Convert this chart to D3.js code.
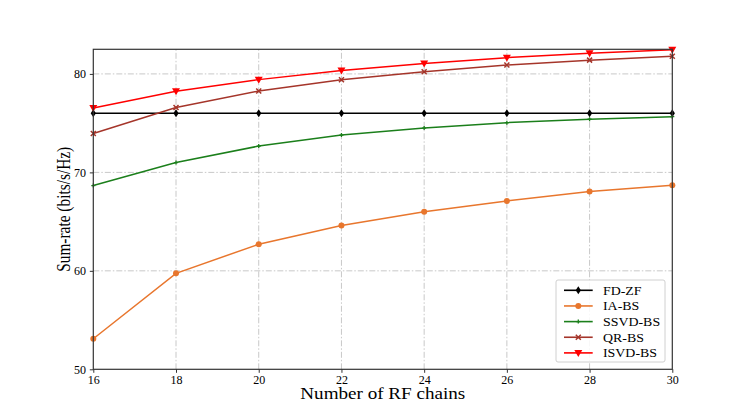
<!DOCTYPE html>
<html><head><meta charset="utf-8">
<script src="https://cdn.jsdelivr.net/npm/d3@7"></script>
<style>body{margin:0;background:#fff}svg{display:block}</style>
</head><body>
<script>
const xs = [16,18,20,22,24,26,28,30];
const fdzf = [76.0,76.0,76.0,76.0,76.0,76.0,76.0,76.0];
const iabs = [53.1,59.75,62.7,64.6,66.0,67.1,68.05,68.7];
const ssvd = [68.66,71.0,72.67,73.79,74.5,75.05,75.4,75.66];
const qrbs = [73.94,76.58,78.27,79.4,80.22,80.9,81.4,81.8];
const isvd = [76.53,78.25,79.42,80.35,81.05,81.65,82.1,82.45];
const seriesNames = ["FD-ZF","IA-BS","SSVD-BS","QR-BS","ISVD-BS"];
const xTicks = [16,18,20,22,24,26,28,30];
const yTicks = [50,60,70,80];

const series = [
  {name:seriesNames[0], vals:fdzf, color:"#000000", marker:"diamond"},
  {name:seriesNames[1], vals:iabs, color:"#e8762d", marker:"circle"},
  {name:seriesNames[2], vals:ssvd, color:"#1b7f1b", marker:"plus"},
  {name:seriesNames[3], vals:qrbs, color:"#a5352a", marker:"x"},
  {name:seriesNames[4], vals:isvd, color:"#ff0000", marker:"tri"}
];

const W=747,H=415;
const m={l:93.3,r:747-672.3,t:49.3,b:415-369.3};
const svg=d3.select("body").append("svg").attr("width",W).attr("height",H);
const x=d3.scaleLinear().domain([16,30]).range([m.l,W-m.r]);
const y=d3.scaleLinear().domain([50,82.5]).range([H-m.b,m.t]);
const font="'Liberation Serif','Times New Roman',serif";

// grid
const g=svg.append("g");
g.selectAll(".vg").data(xTicks.slice(1,-1)).enter().append("line")
  .attr("x1",d=>x(d)).attr("x2",d=>x(d)).attr("y1",y(50)).attr("y2",y(82.5))
  .attr("stroke","#c8c8c8").attr("stroke-width",1).attr("stroke-dasharray","6,2,1.5,2");
g.selectAll(".hg").data(yTicks.slice(1)).enter().append("line")
  .attr("x1",x(16)).attr("x2",x(30)).attr("y1",d=>y(d)).attr("y2",d=>y(d))
  .attr("stroke","#c8c8c8").attr("stroke-width",1).attr("stroke-dasharray","6,2,1.5,2");

// lines
const line=d3.line().x((d,i)=>x(xs[i])).y(d=>y(d));
const plot=svg.append("g");
function drawMarker(sel,type,color){
  if(type==="circle") sel.append("circle").attr("r",3).attr("fill",color);
  else if(type==="diamond") sel.append("path").attr("d","M0,-4L2.6,0L0,4L-2.6,0Z").attr("fill",color);
  else if(type==="plus") sel.append("path").attr("d","M-2,0H2M0,-2V2").attr("stroke",color).attr("stroke-width",1.3);
  else if(type==="x") sel.append("path").attr("d","M-2.5,-2.5L2.5,2.5M-2.5,2.5L2.5,-2.5").attr("stroke",color).attr("stroke-width",1.5);
  else if(type==="tri") sel.append("path").attr("d","M-4,-3L4,-3L0,4Z").attr("fill",color);
}
series.forEach(s=>{
  plot.append("path").datum(s.vals).attr("d",line).attr("fill","none")
    .attr("stroke",s.color).attr("stroke-width",s.marker==="diamond"?1.6:1.5);
  s.vals.forEach((v,i)=>{
    const mk=plot.append("g").attr("transform",`translate(${x(xs[i])},${y(v)})`);
    drawMarker(mk,s.marker,s.color);
  });
});

// axes
const xa=svg.append("g").attr("transform",`translate(0,${y(50)})`)
  .call(d3.axisBottom(x).tickValues(xTicks).tickSize(3.5).tickPadding(3));
const ya=svg.append("g").attr("transform",`translate(${x(16)},0)`)
  .call(d3.axisLeft(y).tickValues(yTicks).tickSize(3.5).tickPadding(3.8));
[xa,ya].forEach(a=>{
  a.select(".domain").remove();
  a.selectAll("line").attr("stroke","#333");
  a.selectAll("text").attr("font-family",font).attr("font-size",12).attr("fill","#000");
});
// frame
svg.append("rect").attr("x",x(16)).attr("y",y(82.5)).attr("width",x(30)-x(16)).attr("height",y(50)-y(82.5))
  .attr("fill","none").attr("stroke","#333").attr("stroke-width",1.2);

// labels
svg.append("text").attr("x",(x(16)+x(30))/2).attr("y",399).attr("text-anchor","middle")
  .attr("font-family",font).attr("font-size",17)
  .attr("textLength",165).attr("lengthAdjust","spacingAndGlyphs").text("Number of RF chains");
svg.append("text").attr("transform",`translate(70,${(y(50)+y(82.5))/2}) rotate(-90)`).attr("text-anchor","middle")
  .attr("font-family",font).attr("font-size",18)
  .attr("textLength",125).attr("lengthAdjust","spacingAndGlyphs").text("Sum-rate (bits/s/Hz)");

// legend
const lg=svg.append("g");
lg.append("rect").attr("x",556).attr("y",280).attr("width",109).attr("height",82).attr("rx",2)
  .attr("fill","#fff").attr("fill-opacity",0.85).attr("stroke","#d0d0d0");
series.forEach((s,i)=>{
  const yy=290.3+i*15.65;
  lg.append("line").attr("x1",564).attr("x2",592.7).attr("y1",yy).attr("y2",yy).attr("stroke",s.color).attr("stroke-width",1.6);
  drawMarker(lg.append("g").attr("transform",`translate(578.3,${yy})`),s.marker,s.color);
  lg.append("g").attr("transform",`translate(603,${yy+4.3}) scale(1.13,1)`)
    .append("text").attr("font-family",font).attr("font-size",12.3).text(s.name);
});
</script>
</body></html>
